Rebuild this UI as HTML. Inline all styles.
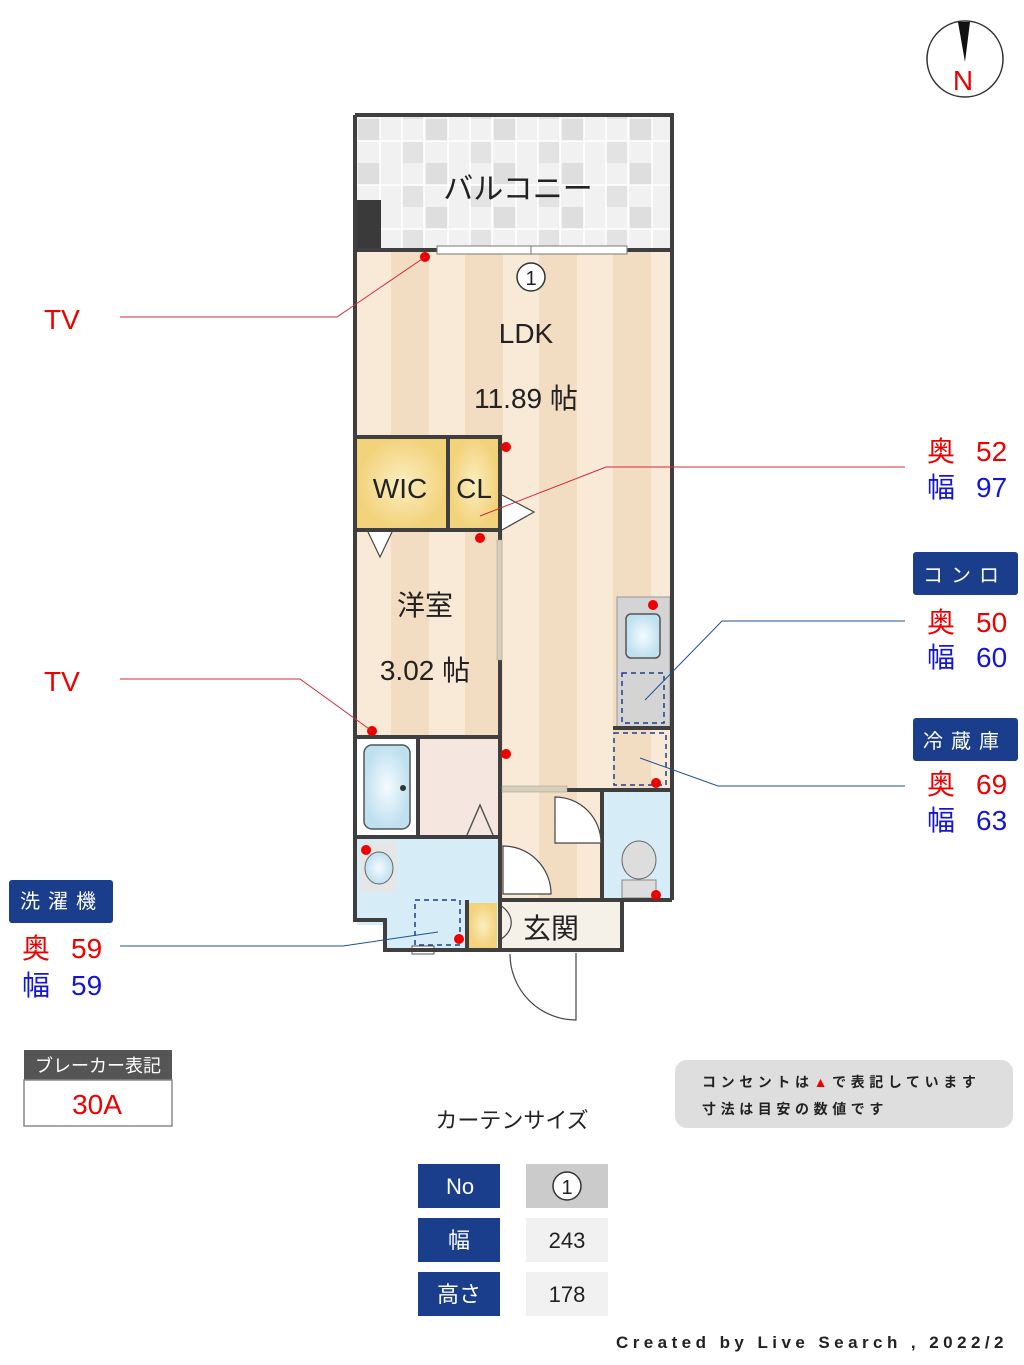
<!DOCTYPE html>
<html><head><meta charset="utf-8"><style>
html,body{margin:0;padding:0;background:#fff}
svg{display:block}
text{font-family:"Liberation Sans","Noto Sans CJK JP",sans-serif}
</style></head><body>
<svg width="1024" height="1365" viewBox="0 0 1024 1365" xmlns="http://www.w3.org/2000/svg">
<defs>
<pattern id="st" x="357" y="0" width="74" height="10" patternUnits="userSpaceOnUse">
<rect width="74" height="10" fill="#f8ead6"/><rect x="34" width="38" height="10" fill="#f2dcc2"/></pattern>
<pattern id="ck" x="358" y="119" width="68" height="44" patternUnits="userSpaceOnUse">
<rect width="68" height="44" fill="#f1f1f1"/><rect width="22" height="22" fill="#dedede"/><rect x="44" y="22" width="22" height="22" fill="#e3e3e3"/>
<path d="M0 22H68M22 0V44M44 0V44M66 0V44" stroke="#fff" stroke-width="1.5"/></pattern>
<radialGradient id="yl"><stop offset="0" stop-color="#fbeec0"/><stop offset="1" stop-color="#f2d27a"/></radialGradient>
<radialGradient id="bl"><stop offset="0" stop-color="#f4fbfe"/><stop offset="1" stop-color="#bfe0ef"/></radialGradient>
</defs>
<rect x="355" y="115" width="317" height="135" fill="url(#ck)"/>
<rect x="355" y="200" width="26" height="50" fill="#3a3a3a"/>
<rect x="357" y="250" width="313" height="650" fill="url(#st)"/>
<rect x="467" y="900" width="155" height="50" fill="#f5f0e8"/>
<rect x="357" y="437" width="91" height="93" fill="url(#yl)"/>
<rect x="450" y="437" width="48" height="93" fill="url(#yl)"/>
<rect x="357" y="737" width="61" height="100" fill="#fff"/>
<rect x="364" y="745" width="46" height="84" rx="8" fill="url(#bl)" stroke="#555" stroke-width="1.5"/>
<circle cx="403" cy="788" r="3" fill="#333"/>
<rect x="418" y="737" width="80" height="100" fill="#f6e6e0"/>
<path d="M467 835L480 805L493 835" fill="none" stroke="#555" stroke-width="1.5"/>
<path d="M357 837H498V950H387V925H357Z" fill="#d6ecf6"/>
<rect x="361" y="842" width="35" height="50" fill="#e6e6e6"/>
<ellipse cx="379" cy="868" rx="14" ry="16" fill="url(#bl)" stroke="#666"/>
<rect x="415" y="900" width="45" height="45" fill="none" stroke="#1e3f8a" stroke-width="1.5" stroke-dasharray="5,4"/>
<rect x="412" y="946" width="22" height="8" fill="#fff" stroke="#555"/>
<rect x="604" y="790" width="66" height="110" fill="#d6ecf6"/>
<ellipse cx="639" cy="860" rx="17" ry="19" fill="#ddd" stroke="#666"/>
<rect x="622" y="880" width="34" height="18" fill="#ddd" stroke="#888"/>
<rect x="617" y="597" width="53" height="130" fill="#d4d4d4" stroke="#999"/>
<rect x="626" y="614" width="34" height="44" rx="5" fill="url(#bl)" stroke="#555" stroke-width="1.5"/>
<rect x="622" y="673" width="42" height="50" fill="none" stroke="#1e3f8a" stroke-width="1.5" stroke-dasharray="5,4"/>
<rect x="614" y="733" width="52" height="52" fill="none" stroke="#1e3f8a" stroke-width="1.5" stroke-dasharray="5,4"/>
<rect x="469" y="903" width="28" height="45" fill="url(#yl)"/>
<text x="551" y="938" font-size="28" text-anchor="middle" fill="#222">玄関</text>
<g fill="none" stroke="#3f3f3f" stroke-width="4">
<path d="M355 115H672V900M355 115V920H385V950H622V900H672"/>
<path d="M355 250H437M627 250H672"/>
<path d="M357 437H500V530H357M448 437V530"/>
<path d="M500 437V540M500 660V950"/>
<path d="M357 737H500M418 737V837M357 837H500"/>
<path d="M567 790H672M602 790V900M500 900H622M467 900V950"/>
<path d="M613 728H672"/>
</g>
<rect x="437" y="246" width="190" height="8" fill="#fff" stroke="#777"/>
<line x1="531" y1="246" x2="531" y2="254" stroke="#777"/>
<rect x="497" y="540" width="5" height="120" fill="#d8cfb8" stroke="#999" stroke-width="0.5"/>
<rect x="502" y="786" width="65" height="6" fill="#d8cfb8" stroke="#999" stroke-width="0.5"/>
<g fill="#fff" stroke="#444" stroke-width="1.2">
<path d="M502 530L534 512L502 495"/>
<path d="M368 532L380 557L392 532"/>
<path d="M601 843A46 46 0 0 0 555 797V843Z" fill="#fff"/>
<path d="M503 846A48 48 0 0 1 551 894H503Z"/>
<path d="M576 953V1020A66 66 0 0 1 510 954" fill="none"/>
<path d="M500 905C515 915 515 930 500 940" fill="none"/>
</g>
<g fill="#e00">
<circle cx="425" cy="257" r="5"/><circle cx="506" cy="447" r="5"/><circle cx="480" cy="538" r="5"/>
<circle cx="372" cy="731" r="5"/><circle cx="506" cy="754" r="5"/><circle cx="653" cy="605" r="5"/>
<circle cx="656" cy="783" r="5"/><circle cx="366" cy="850" r="5"/><circle cx="459" cy="939" r="5"/><circle cx="656" cy="895" r="5"/>
</g>
<g fill="#222">
<text x="518" y="199" font-size="30" text-anchor="middle">バルコニー</text>
<circle cx="531" cy="277" r="14" fill="#fff" stroke="#333" stroke-width="1.5"/>
<text x="531" y="285" font-size="20" text-anchor="middle">1</text>
<text x="526" y="343" font-size="28" text-anchor="middle">LDK</text>
<text x="526" y="408" font-size="28" text-anchor="middle">11.89 帖</text>
<text x="400" y="498" font-size="28" text-anchor="middle">WIC</text>
<text x="474" y="498" font-size="28" text-anchor="middle">CL</text>
<text x="425" y="615" font-size="28" text-anchor="middle">洋室</text>
<text x="425" y="680" font-size="28" text-anchor="middle">3.02 帖</text>
</g>
<g fill="none" stroke-width="1">
<path d="M120 317H337L425 257" stroke="#d6283a"/>
<path d="M120 679H300L372 731" stroke="#d6283a"/>
<path d="M905 467H606L480 516" stroke="#d6283a"/>
<path d="M905 621H722L645 700" stroke="#1e4f9a"/>
<path d="M905 786H718L640 758" stroke="#1e4f9a"/>
<path d="M120 946H343L438 932" stroke="#1e4f9a"/>
</g>
<g font-size="28">
<text x="44" y="329" fill="#e00">TV</text>
<text x="44" y="691" fill="#e00">TV</text>
<text x="927" y="461" fill="#e00">奥</text><text x="976" y="461" fill="#e00">52</text>
<text x="927" y="497" fill="#1515d8">幅</text><text x="976" y="497" fill="#1515d8">97</text>
<text x="927" y="632" fill="#e00">奥</text><text x="976" y="632" fill="#e00">50</text>
<text x="927" y="667" fill="#1515d8">幅</text><text x="976" y="667" fill="#1515d8">60</text>
<text x="927" y="794" fill="#e00">奥</text><text x="976" y="794" fill="#e00">69</text>
<text x="927" y="830" fill="#1515d8">幅</text><text x="976" y="830" fill="#1515d8">63</text>
<text x="22" y="958" fill="#e00">奥</text><text x="71" y="958" fill="#e00">59</text>
<text x="22" y="995" fill="#1515d8">幅</text><text x="71" y="995" fill="#1515d8">59</text>
</g>
<rect x="913" y="552" width="105" height="43" rx="3" fill="#1a3e8c"/>
<text x="965" y="582" font-size="20" fill="#fff" text-anchor="middle" letter-spacing="8">コンロ</text>
<rect x="913" y="718" width="105" height="43" rx="3" fill="#1a3e8c"/>
<text x="965" y="748" font-size="20" fill="#fff" text-anchor="middle" letter-spacing="8">冷蔵庫</text>
<rect x="9" y="880" width="104" height="43" rx="3" fill="#1a3e8c"/>
<text x="62" y="908" font-size="20" fill="#fff" text-anchor="middle" letter-spacing="8">洗濯機</text>
<circle cx="965" cy="59" r="38" fill="#fff" stroke="#333" stroke-width="1.5"/>
<path d="M958 22L965 62L970 22Z" fill="#111"/>
<text x="963" y="90" font-size="28" fill="#e00" text-anchor="middle">N</text>
<rect x="24" y="1050" width="148" height="30" fill="#555"/>
<text x="98" y="1072" font-size="18" fill="#fff" text-anchor="middle">ブレーカー表記</text>
<rect x="24" y="1080" width="148" height="46" fill="#fff" stroke="#888" stroke-width="1.5"/>
<text x="97" y="1114" font-size="28" fill="#e00" text-anchor="middle">30A</text>
<rect x="675" y="1060" width="338" height="68" rx="12" fill="#dedede"/>
<text x="702" y="1087" font-size="14" font-weight="bold" fill="#222" letter-spacing="4.6">コンセントは<tspan fill="#e00">▲</tspan>で表記しています</text>
<text x="702" y="1114" font-size="14" font-weight="bold" fill="#222" letter-spacing="4.6">寸法は目安の数値です</text>
<text x="512" y="1128" font-size="22" fill="#222" text-anchor="middle">カーテンサイズ</text>
<rect x="418" y="1164" width="82" height="44" fill="#1a3e8c"/>
<rect x="418" y="1218" width="82" height="44" fill="#1a3e8c"/>
<rect x="418" y="1272" width="82" height="44" fill="#1a3e8c"/>
<rect x="526" y="1164" width="82" height="44" fill="#cbcbcb"/>
<rect x="526" y="1218" width="82" height="44" fill="#f1f1f1"/>
<rect x="526" y="1272" width="82" height="44" fill="#f1f1f1"/>
<g font-size="22" text-anchor="middle">
<text x="460" y="1194" fill="#fff">No</text>
<text x="459" y="1248" fill="#fff">幅</text>
<text x="459" y="1302" fill="#fff">高さ</text>
<circle cx="567" cy="1186" r="14" fill="#fff" stroke="#333" stroke-width="1.5"/>
<text x="567" y="1194" font-size="20" fill="#222">1</text>
<text x="567" y="1248" fill="#222">243</text>
<text x="567" y="1302" fill="#222">178</text>
</g>
<text x="616" y="1348" font-size="17" font-family="Liberation Mono" font-weight="bold" fill="#222" letter-spacing="2.5" textLength="390" lengthAdjust="spacing">Created by Live Search , 2022/2</text>
</svg>
</body></html>
